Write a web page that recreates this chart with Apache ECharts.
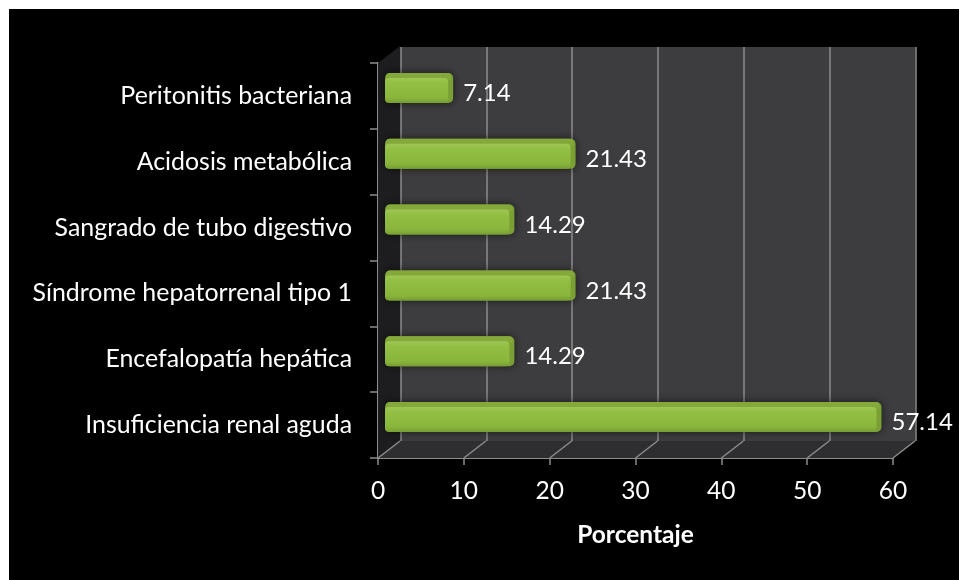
<!DOCTYPE html>
<html>
<head>
<meta charset="utf-8">
<style>
  html, body { margin: 0; padding: 0; background: #fff; }
  #fondo { position: absolute; left: 9px; top: 9px; width: 950px; height: 571px; background: #000; }
  #main { position: absolute; left: 0; top: 0; width: 959px; height: 580px; }
</style>
<script src="https://cdn.jsdelivr.net/npm/echarts@6/dist/echarts.min.js"></script>
</head>
<body>
<div id="fondo"></div>
<div id="main"></div>
<script>
// de abajo hacia arriba, como en la grafica
var categorias = ['Insuficiencia renal aguda', 'Encefalopatía hepática', 'Síndrome hepatorrenal tipo 1',
  'Sangrado de tubo digestivo', 'Acidosis metabólica', 'Peritonitis bacteriana'];
var porcentajes = [57.14, 14.29, 21.43, 14.29, 21.43, 7.14];
var ticksX = [0, 10, 20, 30, 40, 50, 60];

var fuente = 'Lato, "Open Sans", sans-serif';
var gris = '#8c8c8c';
var fondoX = 22, fondoY = 17; // profundidad del "3D"

// piso, pared izquierda y diagonales, sobre el grid frontal
function renderPiso(params, api) {
  var banda = api.size([0, 1])[1];
  var abajoY = api.coord([0, 0])[1] + banda / 2;
  var arribaY = api.coord([0, categorias.length - 1])[1] - banda / 2;
  var x0 = api.coord([0, 0])[0];
  var x1 = api.coord([60, 0])[0];
  var hijos = [
    { type: 'polygon', shape: { points: [[x0, arribaY], [x0 + fondoX, arribaY - fondoY], [x0 + fondoX, abajoY - fondoY], [x0, abajoY]] },
      style: { fill: '#1d1d1f' } },
    { type: 'polygon', shape: { points: [[x0, abajoY], [x0 + fondoX, abajoY - fondoY], [x1 + fondoX, abajoY - fondoY], [x1, abajoY]] },
      style: { fill: '#2e2e30' } }
  ];
  ticksX.forEach(function (t) {
    var x = api.coord([t, 0])[0];
    hijos.push({ type: 'line', shape: { x1: x, y1: abajoY, x2: x + fondoX, y2: abajoY - fondoY },
      style: { stroke: gris, lineWidth: 1.5 } });
  });
  return { type: 'group', children: hijos };
}

function renderBarra(params, api) {
  var cero = api.coord([0, api.value(1)]);
  var fin = api.coord([api.value(0), api.value(1)]);
  var x = cero[0], y = cero[1] - 15, ancho = fin[0] - cero[0], alto = 30;
  var lado = 7, techo = 5;
  return {
    type: 'group',
    children: [
      { type: 'rect', shape: { x: x, y: y, width: ancho + lado, height: alto, r: 5 },
        style: { fill: '#7a9f35', shadowBlur: 8, shadowColor: 'rgba(0,0,0,0.6)' } },
      { type: 'rect', shape: { x: x + 1, y: y, width: ancho + lado - 3, height: techo + 2, r: [4, 4, 0, 0] },
        style: { fill: '#84a93a' } },
      { type: 'rect', shape: { x: x, y: y + techo, width: ancho + 2, height: alto - techo, r: 4 },
        style: { fill: new echarts.graphic.LinearGradient(0, 0, 0, 1, [
          { offset: 0, color: '#9fc654' },
          { offset: 0.2, color: '#93bf44' },
          { offset: 0.8, color: '#8ab53c' },
          { offset: 1, color: '#769e32' }
        ]) } },
      { type: 'text', style: { text: api.value(0).toFixed(2), x: x + ancho + lado + 10, y: cero[1] + 5.5,
        fill: '#fff', font: '24px ' + fuente, textAlign: 'left', textVerticalAlign: 'middle' } }
    ]
  };
}

var chart = echarts.init(document.getElementById('main'), null, { renderer: 'canvas' });
chart.setOption({
  animation: false,
  backgroundColor: 'transparent',
  grid: [
    // pared del fondo
    { left: 400.5, top: 47, width: 515, height: 394, show: true, backgroundColor: '#3d3d3f', borderWidth: 0 },
    // plano de las barras
    { left: 385, top: 55, width: 514, height: 395 },
    // ejes del frente
    { left: 378, top: 63, width: 515, height: 395 }
  ],
  xAxis: [
    { gridIndex: 0, type: 'value', min: 0, max: 60, interval: 10,
      axisLine: { show: false }, axisTick: { show: false }, axisLabel: { show: false },
      splitLine: { show: true, lineStyle: { color: gris, width: 1.5 } } },
    { gridIndex: 1, type: 'value', min: 0, max: 60, show: false },
    { gridIndex: 2, type: 'value', min: 0, max: 60, interval: 10,
      name: 'Porcentaje', nameLocation: 'middle', nameGap: 65,
      nameTextStyle: { color: '#fff', fontFamily: fuente, fontSize: 24.5, fontWeight: 'bold' },
      axisLine: { show: true, lineStyle: { color: gris, width: 2 } },
      axisTick: { show: true, length: 7, lineStyle: { color: gris, width: 1.5 } },
      axisLabel: { color: '#fff', fontFamily: fuente, fontSize: 24.5, margin: 21 },
      splitLine: { show: false } }
  ],
  yAxis: [
    { gridIndex: 0, type: 'category', data: categorias, show: false },
    { gridIndex: 1, type: 'category', data: categorias, show: false },
    { gridIndex: 2, type: 'category', data: categorias,
      axisLine: { show: true, lineStyle: { color: gris, width: 2 } },
      axisTick: { show: true, length: 8, lineStyle: { color: gris, width: 1.5 } },
      axisLabel: { color: '#fff', fontFamily: fuente, fontSize: 24.9, margin: 26, padding: [2, 0, 0, 0] },
      splitLine: { show: false } }
  ],
  series: [
    { type: 'custom', xAxisIndex: 2, yAxisIndex: 2, data: [[0, 0]], renderItem: renderPiso, silent: true, z: 3 },
    { type: 'custom', xAxisIndex: 1, yAxisIndex: 1, z: 4,
      data: porcentajes.map(function (v, i) { return [v, i]; }),
      encode: { x: 0, y: 1 },
      renderItem: renderBarra }
  ]
});
</script>
</body>
</html>
